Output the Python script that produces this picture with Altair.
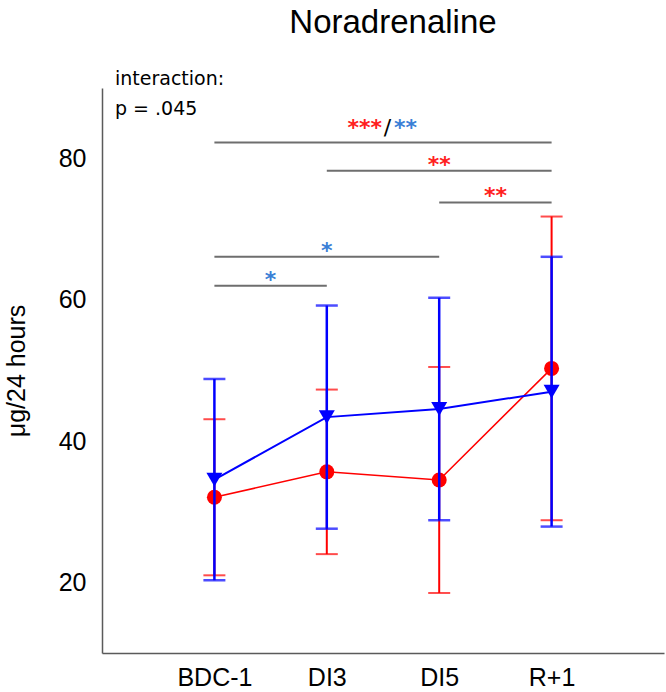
import altair as alt
import pandas as pd

# Time points and per-group mean ± SD (µg/24 h)
categories = ["BDC-1", "DI3", "DI5", "R+1"]
red_mean = [32.05, 35.65, 34.5, 50.3]
red_sd = [11.05, 11.65, 16.0, 21.5]
blue_mean = [34.55, 43.4, 44.55, 47.0]
blue_sd = [14.25, 15.8, 15.75, 19.1]

# Significance brackets: first/last time point, height, stars
bracket_from = [0, 1, 2, 0, 0]
bracket_to = [3, 3, 3, 2, 1]
bracket_y = [82.3, 78.3, 73.8, 66.1, 62.0]
bracket_stars = ["", "**", "**", "*", "*"]
bracket_group = ["", "red", "red", "blue", "blue"]
top_red_stars = "***"
top_blue_stars = "**"
interaction_text = ["interaction:", "p = .045"]
title_text = "Noradrenaline"
y_ticks = [20, 40, 60, 80]

RED = "#ff0000"
BLUE = "#0000ff"
STAR_RED = "#ff2020"
STAR_BLUE = "#3a7fd6"
BRACKET_GREY = "#6e6e6e"

idx = list(range(len(categories)))
red_df = pd.DataFrame({"t": idx, "cat": categories, "mean": red_mean, "sd": red_sd})
blue_df = pd.DataFrame({"t": idx, "cat": categories, "mean": blue_mean, "sd": blue_sd})
for d in (red_df, blue_df):
    d["lo"] = d["mean"] - d["sd"]
    d["hi"] = d["mean"] + d["sd"]

br_df = pd.DataFrame({
    "x0": bracket_from, "x1": bracket_to, "y": bracket_y,
    "stars": bracket_stars, "group": bracket_group,
})
br_df["mid"] = (br_df["x0"] + br_df["x1"]) / 2
star_df = br_df[br_df["stars"] != ""].copy()
star_df["color"] = star_df["group"].map({"red": STAR_RED, "blue": STAR_BLUE})
top_df = br_df[br_df["stars"] == ""].copy()

label_expr = "[" + ",".join(f"'{c}'" for c in categories) + "][datum.value]"

x_scale = alt.Scale(domain=[-1, 4], nice=False, zero=False)
y_scale = alt.Scale(domain=[10, 90], nice=False, zero=False)
x_axis = alt.Axis(values=idx, labelExpr=label_expr, title=None, labelPadding=12)
y_axis = alt.Axis(
    values=y_ticks, title="μg/24 hours", labelPadding=16,
    titleFont="Liberation Sans", titleFontSize=25, titleFontWeight="normal",
    titleColor="black", titleAngle=270, titleX=-86, titleY=282.5,
    titleAlign="center", titleBaseline="middle",
)


def X(field):
    return alt.X(f"{field}:Q", scale=x_scale, axis=x_axis)


def Y(field):
    return alt.Y(f"{field}:Q", scale=y_scale, axis=y_axis)


brackets = alt.Chart(br_df).mark_rule(color=BRACKET_GREY, strokeWidth=2).encode(
    x=X("x0"), x2="x1", y=Y("y")
)
stars = alt.Chart(star_df).mark_text(
    font="DejaVu Sans", fontWeight="bold", fontSize=22, baseline="alphabetic", dy=1
).encode(x=X("mid"), y=Y("y"), text="stars:N", color=alt.Color("color:N", scale=None))

top_red = alt.Chart(top_df).mark_text(
    font="DejaVu Sans", fontWeight="bold", fontSize=22, baseline="alphabetic",
    align="right", dx=-1, dy=-7, color=STAR_RED, text=top_red_stars,
).encode(x=X("mid"), y=Y("y"))
top_slash = alt.Chart(top_df).mark_text(
    font="DejaVu Sans", fontSize=22, baseline="alphabetic",
    align="center", dx=4.5, dy=-7.5, color="black", text="/",
).encode(x=X("mid"), y=Y("y"))
top_blue = alt.Chart(top_df).mark_text(
    font="DejaVu Sans", fontWeight="bold", fontSize=22, baseline="alphabetic",
    align="left", dx=11, dy=-7, color=STAR_BLUE, text=top_blue_stars,
).encode(x=X("mid"), y=Y("y"))


def series(df, color, width, shape, size):
    bars = alt.Chart(df).mark_rule(color=color, strokeWidth=width).encode(
        x=X("t"), y=Y("lo"), y2="hi"
    )
    cap_lo = alt.Chart(df).mark_tick(
        color=color, orient="horizontal", size=22, thickness=width
    ).encode(x=X("t"), y=Y("lo"))
    cap_hi = alt.Chart(df).mark_tick(
        color=color, orient="horizontal", size=22, thickness=width
    ).encode(x=X("t"), y=Y("hi"))
    line = alt.Chart(df).mark_line(color=color, strokeWidth=width - 0.5).encode(
        x=X("t"), y=Y("mean"), order="t:Q"
    )
    pts = alt.Chart(df).mark_point(
        shape=shape, size=size, filled=True, opacity=1, color=color, strokeWidth=0
    ).encode(x=X("t"), y=Y("mean"))
    return [bars, cap_lo, cap_hi, line, pts]


note = alt.Chart(pd.DataFrame({"txt": ["\n".join(interaction_text)]})).mark_text(
    font="DejaVu Sans", fontSize=19, align="left", baseline="alphabetic",
    lineBreak="\n", lineHeight=30, color="black",
).encode(x=alt.value(13), y=alt.value(-3), text="txt:N")

# Chart heading, centred a little right of the plot centre
heading = alt.Chart(pd.DataFrame({"txt": [title_text]})).mark_text(
    font="Liberation Sans", fontSize=33, align="center", baseline="alphabetic",
    color="black",
).encode(x=alt.value(291), y=alt.value(-55), text="txt:N")

chart = alt.layer(
    brackets, stars, top_red, top_slash, top_blue,
    *series(red_df, RED, 2, "circle", 225),
    *series(blue_df, BLUE, 2.5, "triangle-down", 256),
    note, heading,
).properties(
    width=562, height=565,
    padding={"left": 102, "top": 88, "right": 2, "bottom": 39},
    autosize=alt.AutoSizeParams(type="none"),
).configure_view(stroke=None).configure_axis(
    grid=False, ticks=False, tickSize=0, domainColor="#5a5a5a", domainWidth=1.5,
    labelFont="Liberation Sans", labelFontSize=25, labelColor="black",
)

chart.save("out.html", embed_options={"renderer": "svg", "actions": False})
